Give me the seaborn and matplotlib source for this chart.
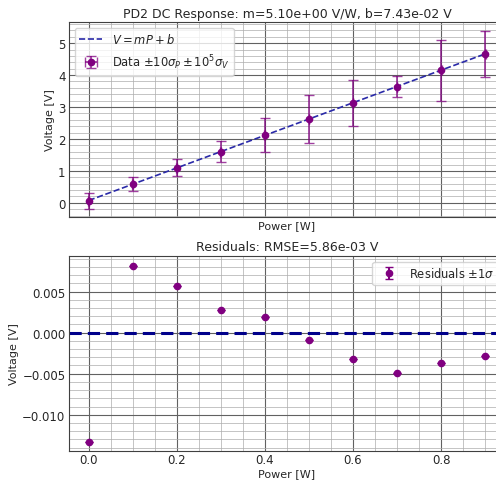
import numpy as np
import pandas as pd
import seaborn as sns
import matplotlib.pyplot as plt

# measured data
power = [0.0, 0.1, 0.2, 0.3, 0.4, 0.5, 0.6, 0.7, 0.8, 0.9]
voltage = [0.0609, 0.5925, 1.1000, 1.6071, 2.1143, 2.6234, 3.1311, 3.6394, 4.1506, 4.6615]
sigma_p = [1e-4] * 10
sigma_v = [2.5e-6, 2.3e-6, 2.6e-6, 3.2e-6, 5.3e-6, 7.4e-6, 7.3e-6, 3.3e-6, 9.5e-6, 7.3e-6]
residuals = [-0.01337, 0.00817, 0.00566, 0.00277, 0.00195, -0.00085, -0.00321, -0.00488, -0.0037, -0.0028]
m_fit = 5.10
b_fit = 7.43e-02
rmse = 5.86e-03

df = pd.DataFrame({'P': power, 'V': voltage, 'fit': [m_fit * p + b_fit for p in power]})

sns.set_style('whitegrid')
plt.rcParams['font.family'] = ['DejaVu Sans']
plt.rcParams['xtick.direction'] = 'in'
plt.rcParams['ytick.direction'] = 'in'
plt.rcParams['axes.edgecolor'] = '0.25'

fig = plt.figure(figsize=(4.96, 4.81), dpi=100)
ax1 = fig.add_axes([0.139, 0.547, 0.879, 0.405])
ax2 = fig.add_axes([0.139, 0.060, 0.879, 0.406])

sns.lineplot(data=df, x='P', y='fit', ax=ax1, color='#2a2aa8', linestyle='--',
             linewidth=1.2, label='$V = mP + b$')
ax1.errorbar(df['P'], df['V'], xerr=np.array(sigma_p) * 10, yerr=np.array(sigma_v) * 1e5,
             fmt='o', color='purple', ms=4.5, ecolor='purple', elinewidth=1.3, capsize=3.5,
             label=r'Data $\pm 10\sigma_P \pm 10^5\sigma_V$')
for c in ax1.containers:
    for art in c.lines[1] + c.lines[2]:
        art.set_alpha(0.75)
ax1.set_xlim(-0.045, 0.945)
ax1.set_ylim(-0.44, 5.66)
ax1.set_title(f'PD2 DC Response: m={m_fit:.2e} V/W, b={b_fit:.2e} V', fontsize=9, pad=4)
ax1.set_xlabel('Power [W]', fontsize=8, labelpad=1)
ax1.set_ylabel('Voltage [V]', fontsize=8, labelpad=2)
ax1.tick_params(labelbottom=False)
ax1.legend(loc='upper left', fontsize=8.3)

ax2.errorbar(power, residuals, yerr=sigma_v, fmt='o', color='purple', ms=4.5,
             ecolor='purple', capsize=3, label=r'Residuals $\pm 1\sigma$')
ax2.axhline(0, color='darkblue', linestyle='--', linewidth=2.2, dashes=(4, 2))
ax2.set_xlim(-0.045, 0.945)
ax2.set_ylim(-0.01443, 0.00935)
ax2.set_title(f'Residuals: RMSE={rmse:.2e} V', fontsize=9, pad=4)
ax2.set_xlabel('Power [W]', fontsize=8, labelpad=2)
ax2.set_ylabel('Voltage [V]', fontsize=8, labelpad=2)
ax2.legend(loc='upper right', fontsize=8.3)

for ax in (ax1, ax2):
    ax.minorticks_on()
    ax.grid(which='major', color='0.38', linewidth=0.8)
    ax.grid(which='minor', color='0.68', linewidth=0.5)
    ax.tick_params(which='both', labelsize=8.5, color='0.25')
    ax.tick_params(axis='x', which='both', pad=1.2)
    ax.tick_params(axis='y', which='both', pad=2.5)
    ax.tick_params(which='major', length=3.5)
    ax.tick_params(which='minor', length=2)

fig.savefig('out.png', dpi=100)
